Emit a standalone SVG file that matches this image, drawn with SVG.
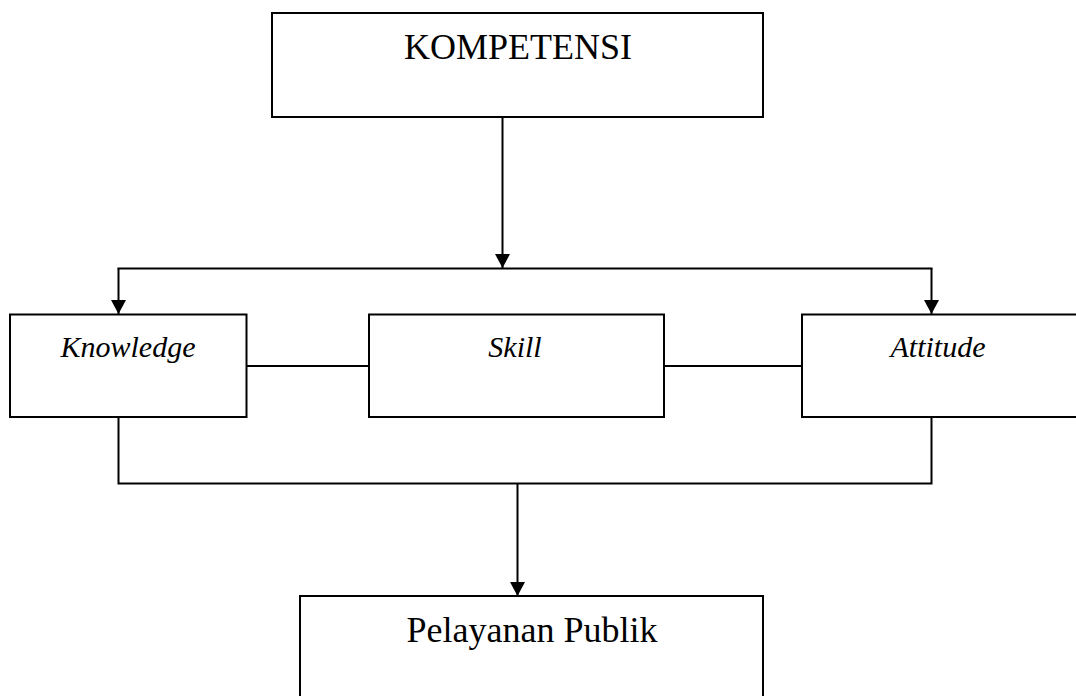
<svg xmlns="http://www.w3.org/2000/svg" width="1076" height="696" viewBox="0 0 1076 696">
<defs>
<style>
.box{fill:#fff;stroke:#000;stroke-width:2}
.ln{fill:none;stroke:#000;stroke-width:2}
.t{font-family:"Liberation Serif","Times New Roman",serif;fill:#000;text-anchor:middle}
.up{font-size:36px}
.it{font-size:30px;font-style:italic}
</style>
<marker id="ah" viewBox="0 0 14 15" refX="14" refY="7.5" markerWidth="14" markerHeight="15" markerUnits="userSpaceOnUse" orient="auto">
<path d="M0,0 L14,7.5 L0,15 z" fill="#000"/>
</marker>
</defs>
<rect width="1076" height="696" fill="#fff"/>
<g id="connectors">
<line class="ln" x1="502.5" y1="117" x2="502.5" y2="268" marker-end="url(#ah)"/>
<line class="ln" x1="117.5" y1="268.5" x2="932.5" y2="268.5"/>
<line class="ln" x1="118.5" y1="268.5" x2="118.5" y2="314" marker-end="url(#ah)"/>
<line class="ln" x1="931.5" y1="268.5" x2="931.5" y2="314" marker-end="url(#ah)"/>
<line class="ln" x1="247" y1="366" x2="369" y2="366"/>
<line class="ln" x1="664" y1="366" x2="802" y2="366"/>
<polyline class="ln" points="118.5,417 118.5,483.5 931.5,483.5 931.5,417"/>
<line class="ln" x1="517.5" y1="483.5" x2="517.5" y2="596" marker-end="url(#ah)"/>
</g>
<g id="kompetensi">
<rect class="box" x="272" y="13" width="491" height="104"/>
<text class="t up" x="518" y="59">KOMPETENSI</text>
</g>
<g id="knowledge">
<rect class="box" x="10" y="314.5" width="236.5" height="102.5"/>
<text class="t it" x="128" y="357">Knowledge</text>
</g>
<g id="skill">
<rect class="box" x="369" y="314.5" width="295" height="102.5"/>
<text class="t it" x="515" y="357">Skill</text>
</g>
<g id="attitude">
<rect class="box" x="802" y="314.5" width="280" height="102.5"/>
<text class="t it" x="938" y="357">Attitude</text>
</g>
<g id="pelayanan">
<rect class="box" x="300" y="596" width="463" height="110"/>
<text class="t up" x="532" y="642">Pelayanan Publik</text>
</g>
</svg>
